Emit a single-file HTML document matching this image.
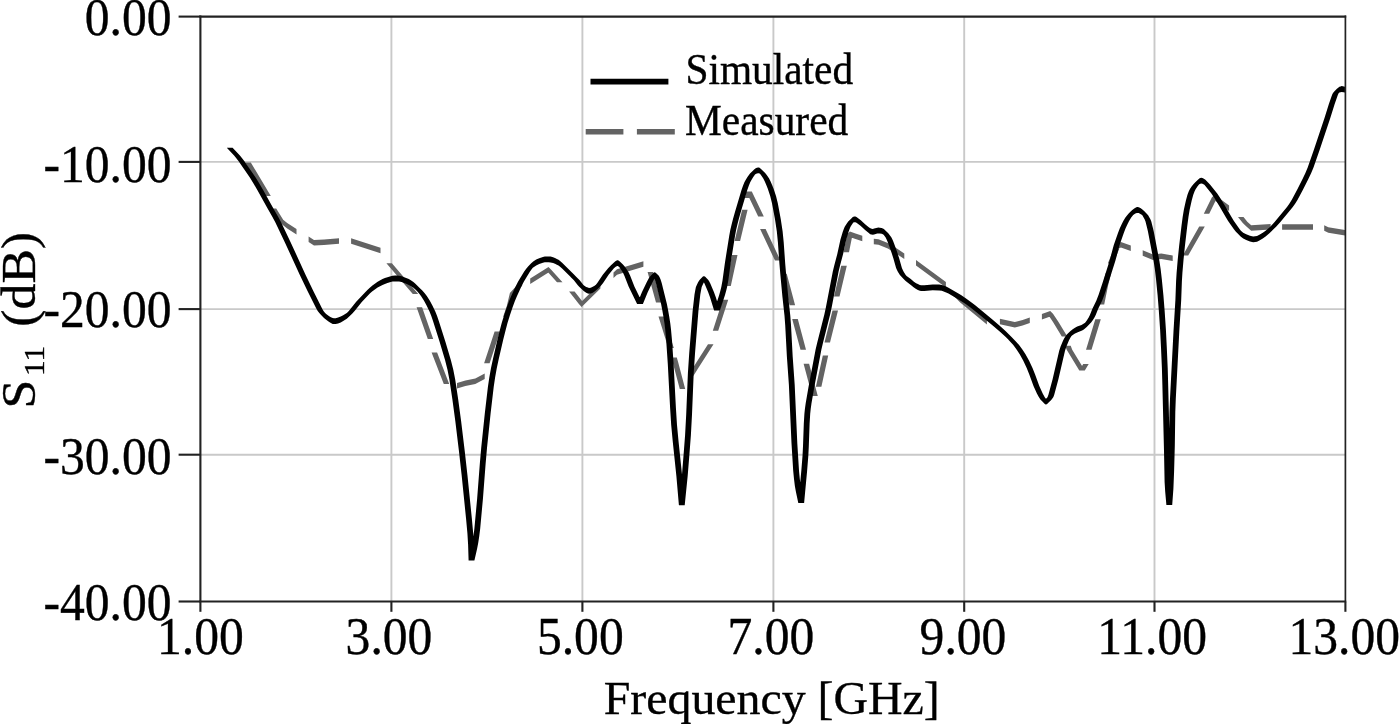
<!DOCTYPE html>
<html><head><meta charset="utf-8"><style>
html,body{margin:0;padding:0;background:#fff;overflow:hidden;}
svg{display:block;filter:grayscale(1);}
text{font-family:"Liberation Serif",serif;fill:#000;stroke:#000;stroke-width:0.35px;}
</style></head><body>
<svg width="1400" height="724" viewBox="0 0 1400 724">
<rect width="1400" height="724" fill="#fff"/>
<g stroke="#c9c9c9" stroke-width="1.9"><line x1="391.4" y1="16.6" x2="391.4" y2="601.5"/><line x1="582.4" y1="16.6" x2="582.4" y2="601.5"/><line x1="773.4" y1="16.6" x2="773.4" y2="601.5"/><line x1="964.2" y1="16.6" x2="964.2" y2="601.5"/><line x1="1154.5" y1="16.6" x2="1154.5" y2="601.5"/><line x1="200.4" y1="161.9" x2="1345.4" y2="161.9"/><line x1="200.4" y1="309.1" x2="1345.4" y2="309.1"/><line x1="200.4" y1="454.7" x2="1345.4" y2="454.7"/></g>
<path d="M250.8,162.5 270.8,196.0 265.2,196.0 245.2,162.5ZM276.2,208.4 283.8,220.8 278.2,220.8 270.8,208.4ZM281.0,218.1 287.2,223.1 296.5,229.1 296.5,234.6 287.2,228.6 281.0,223.6ZM278.2,220.8 281.0,218.1 283.8,220.8 281.0,223.6ZM308.6,236.6 314.0,240.1 324.0,239.6 339.0,238.2 339.0,243.7 324.0,245.1 314.0,245.6 308.6,242.1ZM351.1,238.3 380.5,247.8 380.5,253.3 351.1,243.8ZM391.9,263.3 418.2,294.1 412.8,294.1 386.4,263.3ZM422.1,307.3 433.2,339.0 427.8,339.0 416.6,307.3ZM437.1,352.4 449.2,383.9 443.8,383.9 431.6,352.4ZM457.0,382.9 465.4,380.6 475.3,378.4 484.7,373.4 484.7,378.9 475.3,383.9 465.4,386.1 457.0,388.4ZM484.1,363.2 494.6,331.4 500.1,331.4 489.6,363.2ZM503.1,316.7 506.8,306.0 509.9,293.0 517.0,285.3 522.5,285.3 515.4,293.0 512.2,306.0 508.6,316.7ZM530.2,278.6 548.5,266.9 548.5,272.4 530.2,284.1ZM551.2,269.7 562.5,282.3 557.0,282.3 545.8,269.7ZM545.8,269.7 548.5,266.9 551.2,269.7 548.5,272.4ZM574.6,291.5 584.4,304.1 578.9,304.1 569.1,291.5ZM581.6,301.4 600.4,282.9 600.4,288.4 581.6,306.9ZM578.9,304.1 581.6,301.4 584.4,304.1 581.6,306.9ZM613.5,272.4 617.0,269.2 643.4,261.2 643.4,266.8 617.0,274.8 613.5,277.9ZM653.1,271.9 661.5,302.4 656.0,302.4 647.6,271.9ZM664.0,316.5 673.8,348.0 668.3,348.0 658.5,316.5ZM676.8,357.6 678.1,362.0 685.2,389.0 679.8,389.0 672.6,362.0 671.3,357.6ZM679.8,389.0 679.8,389.0 685.3,389.0 685.2,389.0ZM688.0,375.8 692.5,368.6 708.0,344.3 713.5,344.3 698.0,368.6 693.5,375.8ZM712.8,330.8 722.8,299.8 728.2,299.8 718.2,330.8ZM725.2,286.1 732.0,255.0 737.5,255.0 730.8,286.1ZM734.6,240.9 742.1,209.8 747.6,209.8 740.1,240.9ZM744.8,198.0 746.2,191.5 751.8,191.5 750.3,198.0ZM751.8,191.5 763.8,216.5 758.2,216.5 746.2,191.5ZM765.6,229.1 780.5,260.6 775.0,260.6 760.1,229.1ZM786.6,273.7 786.8,274.0 795.1,305.2 789.6,305.2 781.2,274.0 781.1,273.7ZM797.8,319.0 806.0,349.7 800.5,349.7 792.2,319.0ZM809.1,363.7 817.8,396.0 812.2,396.0 803.6,363.7ZM815.9,386.7 822.8,355.5 828.2,355.5 821.4,386.7ZM824.5,342.4 832.5,310.4 838.0,310.4 830.0,342.4ZM834.0,296.6 841.2,265.8 846.8,265.8 839.5,296.6ZM843.5,252.3 847.1,234.3 852.6,234.3 849.0,252.3ZM849.9,231.6 855.5,233.4 862.3,235.7 862.3,241.2 855.5,238.9 849.9,237.1ZM847.1,234.3 849.9,231.6 852.6,234.3 849.9,237.1ZM873.8,238.8 878.5,239.3 887.8,243.1 896.5,248.3 904.3,253.4 904.3,258.9 896.5,253.8 887.8,248.6 878.5,244.8 873.8,244.2ZM916.0,259.9 945.9,282.1 945.9,287.6 916.0,265.4ZM960.4,297.1 963.0,299.7 957.5,299.7 954.9,297.1ZM960.2,296.9 986.9,319.1 986.9,324.6 960.2,302.4ZM957.5,299.7 960.2,296.9 963.0,299.7 960.2,302.4ZM999.9,318.8 1014.8,322.1 1022.6,319.9 1029.8,317.6 1029.8,323.1 1022.6,325.4 1014.8,327.6 999.9,324.2ZM1041.9,313.9 1050.2,311.1 1050.2,316.6 1041.9,319.4ZM1053.0,313.8 1058.5,322.1 1067.3,336.5 1061.8,336.5 1053.0,322.1 1047.5,313.8ZM1047.5,313.8 1050.2,311.1 1053.0,313.8 1050.2,316.6ZM1070.7,345.7 1072.2,349.7 1084.8,370.6 1079.3,370.6 1066.7,349.7 1065.2,345.7ZM1079.3,370.6 1083.2,364.0 1088.7,364.0 1084.8,370.6ZM1086.0,349.7 1095.3,319.3 1100.8,319.3 1091.5,349.7ZM1098.7,304.4 1102.8,285.0 1105.7,272.9 1111.2,272.9 1108.2,285.0 1104.2,304.4ZM1107.9,263.6 1108.0,263.0 1114.8,246.5 1120.2,246.5 1113.5,263.0 1113.4,263.6ZM1117.5,243.8 1120.9,241.9 1130.8,245.6 1130.8,251.1 1120.9,247.4 1117.5,249.2ZM1114.8,246.5 1117.5,243.8 1120.2,246.5 1117.5,249.2ZM1142.7,250.2 1153.0,254.4 1161.3,253.4 1172.7,255.4 1172.7,260.9 1161.3,258.9 1153.0,259.9 1142.7,255.8ZM1182.8,255.6 1199.2,226.4 1204.8,226.4 1188.2,255.6ZM1203.8,213.7 1211.8,197.5 1217.2,197.5 1209.2,213.7ZM1214.5,194.8 1229.1,205.4 1229.1,210.9 1214.5,200.2ZM1211.8,197.5 1214.5,194.8 1217.2,197.5 1214.5,200.2ZM1243.5,217.0 1248.3,223.1 1242.8,223.1 1238.0,217.0ZM1245.6,220.3 1251.2,225.2 1270.6,223.9 1270.6,229.4 1251.2,230.8 1245.6,225.8ZM1242.8,223.1 1245.6,220.3 1248.3,223.1 1245.6,225.8ZM1282.1,224.2 1313.0,224.2 1313.0,229.8 1282.1,229.8ZM1324.2,225.3 1328.3,227.3 1345.0,230.1 1345.0,235.6 1328.3,232.8 1324.2,230.8Z" fill="#636363"/>
<path d="M232.6,147.8 239.9,155.6 242.1,158.3 244.6,161.6 255.8,177.8 259.0,183.0 263.4,190.5 273.4,208.5 278.4,217.2 281.2,222.4 290.6,242.2 305.4,274.4 313.2,290.7 322.2,308.7 323.5,311.0 325.1,313.1 326.9,315.0 321.1,315.0 319.3,313.1 317.7,311.0 316.4,308.7 307.4,290.7 299.6,274.4 284.8,242.2 275.4,222.4 272.6,217.2 267.6,208.5 257.6,190.5 253.2,183.0 250.0,177.8 238.8,161.6 236.3,158.3 234.1,155.6 226.8,147.8ZM324.0,312.1 326.5,314.2 329.2,316.2 330.9,317.3 332.7,318.1 334.0,318.3 335.7,318.2 338.1,317.6 340.7,316.6 343.2,315.3 346.8,312.9 349.2,310.8 349.2,316.6 346.8,318.7 343.2,321.1 340.7,322.4 338.1,323.4 335.7,324.0 334.0,324.1 332.7,323.9 330.9,323.1 329.2,322.0 326.5,320.0 324.0,317.9ZM346.3,313.7 349.0,310.7 354.0,304.5 356.2,301.8 364.5,293.0 370.3,293.0 362.0,301.8 359.8,304.5 354.8,310.7 352.1,313.7ZM367.4,290.1 369.8,287.7 372.4,285.5 375.2,283.4 377.6,281.8 382.5,279.1 384.9,278.1 387.4,277.2 389.9,276.4 392.5,275.8 395.1,275.6 397.0,275.6 399.0,275.8 401.6,276.3 403.5,276.9 406.2,277.9 408.8,279.1 411.2,280.5 413.4,282.0 415.4,283.7 419.4,287.7 419.4,293.5 415.4,289.5 413.4,287.8 411.2,286.3 408.8,284.9 406.2,283.7 403.5,282.7 401.6,282.1 399.0,281.6 397.0,281.4 395.1,281.4 392.5,281.6 389.9,282.2 387.4,283.0 384.9,283.9 382.5,284.9 377.6,287.6 375.2,289.2 372.4,291.3 369.8,293.5 367.4,295.9ZM422.3,290.6 424.7,293.3 426.8,296.0 429.7,300.6 432.4,305.4 435.3,311.6 437.1,316.0 438.8,320.9 445.4,341.7 450.9,360.3 453.3,369.8 455.2,379.4 458.2,399.5 461.1,420.9 464.7,450.7 467.4,474.8 471.8,518.1 473.2,533.2 473.9,544.5 474.4,560.5 468.6,560.5 468.1,544.5 467.4,533.2 466.0,518.1 461.6,474.8 458.9,450.7 455.3,420.9 452.4,399.5 449.4,379.4 447.5,369.8 445.1,360.3 439.6,341.7 433.0,320.9 431.3,316.0 429.5,311.6 426.6,305.4 423.9,300.6 421.0,296.0 418.9,293.3 416.5,290.6ZM468.6,560.5 471.3,548.7 472.4,543.1 473.4,536.4 474.4,528.6 477.2,498.0 479.8,464.1 481.2,447.9 484.8,413.6 487.9,387.1 489.3,377.5 491.0,368.1 493.0,358.7 497.4,339.7 499.8,330.2 501.7,323.1 504.1,315.3 506.8,307.3 509.1,301.1 511.1,296.2 515.1,287.6 518.0,281.8 520.1,278.2 524.2,271.5 526.2,268.7 528.3,266.2 534.1,266.2 532.0,268.7 530.0,271.5 525.9,278.2 523.8,281.8 520.9,287.6 516.9,296.2 514.9,301.1 512.6,307.3 509.9,315.3 507.5,323.1 505.6,330.2 503.2,339.7 498.8,358.7 496.8,368.1 495.1,377.5 493.7,387.1 490.6,413.6 487.0,447.9 485.6,464.1 483.0,498.0 480.2,528.6 479.2,536.4 478.2,543.1 477.1,548.7 474.4,560.5ZM531.2,263.3 533.2,261.6 536.2,259.6 539.2,258.2 542.9,256.9 544.8,256.5 546.8,256.4 548.7,256.4 550.6,256.6 553.1,257.3 555.0,258.0 556.9,258.9 558.5,259.8 560.1,261.0 562.1,262.8 573.5,274.0 573.5,279.8 562.1,268.6 560.1,266.8 558.5,265.6 556.9,264.7 555.0,263.8 553.1,263.1 550.6,262.4 548.7,262.2 546.8,262.2 544.8,262.3 542.9,262.7 539.2,264.0 536.2,265.4 533.2,267.4 531.2,269.1ZM576.4,276.9 579.7,280.3 583.6,285.2 585.0,286.7 579.2,286.7 577.8,285.2 573.9,280.3 570.6,276.9ZM582.1,283.8 584.0,285.4 586.2,286.9 587.9,287.6 589.0,287.9 590.7,287.7 592.3,287.1 594.6,285.7 597.3,283.5 597.3,289.3 594.6,291.5 592.3,292.9 590.7,293.5 589.0,293.7 587.9,293.4 586.2,292.7 584.0,291.2 582.1,289.6ZM594.4,286.4 595.7,285.1 597.3,283.0 602.8,274.8 608.1,268.2 613.9,268.2 608.6,274.8 603.1,283.0 601.5,285.1 600.2,286.4ZM611.0,265.3 614.8,261.7 615.7,261.0 616.7,260.4 617.2,260.3 617.7,260.3 618.5,260.6 619.8,261.4 619.8,267.2 618.5,266.4 617.7,266.1 617.2,266.1 616.7,266.2 615.7,266.8 614.8,267.5 611.0,271.1ZM622.7,264.3 624.5,266.2 626.6,269.2 628.7,272.6 630.3,276.0 634.4,286.4 642.9,304.0 637.1,304.0 628.6,286.4 624.5,276.0 622.9,272.6 620.8,269.2 618.7,266.2 616.9,264.3ZM637.1,304.0 641.9,292.2 646.7,282.2 648.8,278.3 650.5,276.0 656.3,276.0 654.6,278.3 652.5,282.2 647.7,292.2 642.9,304.0ZM653.4,273.1 654.0,272.6 654.6,272.3 655.2,272.4 655.7,272.7 655.7,278.5 655.2,278.2 654.6,278.1 654.0,278.4 653.4,278.9ZM658.6,275.6 659.5,276.9 660.6,279.5 661.7,283.0 666.9,304.1 668.1,310.2 669.2,316.5 670.3,323.5 671.0,329.4 672.0,340.6 673.6,363.9 675.9,407.7 677.0,425.0 678.5,441.1 682.2,476.3 684.7,505.3 678.9,505.3 676.4,476.3 672.7,441.1 671.2,425.0 670.1,407.7 667.8,363.9 666.2,340.6 665.2,329.4 664.5,323.5 663.4,316.5 662.3,310.2 661.1,304.1 655.9,283.0 654.8,279.5 653.7,276.9 652.8,275.6ZM678.9,505.3 681.9,475.7 683.6,454.5 685.1,435.0 686.2,414.5 687.9,373.2 689.2,353.6 692.6,311.3 694.5,294.5 695.4,289.4 695.9,287.1 696.8,284.9 698.1,282.2 699.2,280.4 700.0,279.5 705.8,279.5 705.0,280.4 703.9,282.2 702.6,284.9 701.7,287.1 701.2,289.4 700.3,294.5 698.4,311.3 695.0,353.6 693.7,373.2 692.0,414.5 690.9,435.0 689.4,454.5 687.7,475.7 684.7,505.3ZM702.9,276.6 703.6,276.2 704.3,276.2 705.2,276.8 705.2,282.6 704.3,282.0 703.6,282.0 702.9,282.4ZM708.1,279.7 709.0,281.0 710.3,283.4 713.9,291.9 715.9,297.6 719.9,310.4 714.1,310.4 710.1,297.6 708.1,291.9 704.5,283.4 703.2,281.0 702.3,279.7ZM714.1,310.4 719.2,295.0 720.3,291.0 721.3,287.0 722.5,280.4 724.9,262.9 729.2,235.9 730.3,229.9 731.6,224.4 733.0,218.9 734.9,212.2 741.5,190.1 743.0,185.7 744.4,182.3 745.8,179.8 747.3,177.3 748.9,175.0 750.0,173.6 755.8,173.6 754.7,175.0 753.1,177.3 751.6,179.8 750.2,182.3 748.8,185.7 747.3,190.1 740.7,212.2 738.8,218.9 737.4,224.4 736.1,229.9 735.0,235.9 730.7,262.9 728.3,280.4 727.1,287.0 726.1,291.0 725.0,295.0 719.9,310.4ZM752.9,170.7 754.1,169.5 755.7,168.3 756.9,167.7 758.1,167.4 758.7,167.5 759.6,167.8 761.0,168.9 761.0,174.7 759.6,173.6 758.7,173.3 758.1,173.2 756.9,173.5 755.7,174.1 754.1,175.3 752.9,176.5ZM763.9,171.8 765.8,173.8 767.6,176.3 769.1,178.6 770.6,181.5 772.0,184.7 773.6,188.7 776.0,196.1 777.8,203.3 780.7,218.7 782.6,231.2 783.7,242.3 785.2,263.5 786.1,273.9 788.2,296.6 790.3,315.8 791.0,324.9 792.7,356.7 794.7,384.9 797.3,443.3 799.0,470.8 799.8,479.1 800.7,486.2 801.7,491.8 804.1,503.0 798.3,503.0 795.9,491.8 794.9,486.2 794.0,479.1 793.2,470.8 791.5,443.3 788.9,384.9 786.9,356.7 785.2,324.9 784.5,315.8 782.4,296.6 780.3,273.9 779.4,263.5 777.9,242.3 776.8,231.2 774.9,218.7 772.0,203.3 770.2,196.1 767.8,188.7 766.2,184.7 764.8,181.5 763.3,178.6 761.8,176.3 760.0,173.8 758.1,171.8ZM798.3,503.0 801.3,471.0 802.5,455.9 803.0,446.3 803.8,423.8 804.4,413.8 804.9,408.9 805.7,403.2 808.6,386.5 815.6,349.4 817.2,342.7 824.4,314.2 825.8,307.7 832.8,271.5 834.2,265.7 837.3,254.1 840.4,239.8 842.7,232.0 843.6,229.4 844.6,227.0 845.5,225.4 847.0,223.2 848.2,221.6 854.0,221.6 852.8,223.2 851.3,225.4 850.4,227.0 849.4,229.4 848.5,232.0 846.2,239.8 843.1,254.1 840.0,265.7 838.6,271.5 831.6,307.7 830.2,314.2 823.0,342.7 821.4,349.4 814.4,386.5 811.5,403.2 810.7,408.9 810.2,413.8 809.6,423.8 808.8,446.3 808.3,455.9 807.1,471.0 804.1,503.0ZM851.1,218.7 852.5,217.3 853.4,216.7 854.3,216.4 855.4,216.5 856.5,217.0 860.8,220.3 865.1,224.3 868.8,227.3 869.9,228.1 871.0,228.6 871.6,228.8 872.8,228.9 874.1,228.6 877.3,227.7 878.5,227.6 879.8,227.7 881.7,228.0 882.8,228.5 883.9,229.1 885.4,230.4 885.4,236.2 883.9,234.9 882.8,234.3 881.7,233.8 879.8,233.5 878.5,233.4 877.3,233.5 874.1,234.4 872.8,234.7 871.6,234.6 871.0,234.4 869.9,233.9 868.8,233.1 865.1,230.1 860.8,226.1 856.5,222.8 855.4,222.3 854.3,222.2 853.4,222.5 852.5,223.1 851.1,224.5ZM888.3,233.3 889.6,234.9 891.3,237.3 892.2,239.0 893.3,241.4 895.9,248.5 897.7,253.8 899.2,258.5 901.9,267.9 902.9,270.3 903.8,272.1 905.7,275.0 908.0,277.5 902.2,277.5 899.9,275.0 898.0,272.1 897.1,270.3 896.1,267.9 893.4,258.5 891.9,253.8 890.1,248.5 887.5,241.4 886.4,239.0 885.5,237.3 883.8,234.9 882.5,233.3ZM905.1,274.6 906.6,275.9 910.8,279.1 913.9,281.8 916.1,283.2 917.9,284.1 919.8,284.9 921.2,285.2 922.4,285.3 924.3,285.3 932.7,284.5 939.2,284.6 941.8,285.0 943.7,285.6 946.1,286.6 948.5,287.8 961.0,295.1 965.7,298.2 969.5,300.9 974.9,305.1 992.4,319.4 999.7,325.7 1005.5,331.0 1011.3,336.8 1011.3,342.6 1005.5,336.8 999.7,331.5 992.4,325.2 974.9,310.9 969.5,306.7 965.7,304.0 961.0,300.9 948.5,293.6 946.1,292.4 943.7,291.4 941.8,290.8 939.2,290.4 932.7,290.3 924.3,291.1 922.4,291.1 921.2,291.0 919.8,290.7 917.9,289.9 916.1,289.0 913.9,287.6 910.8,284.9 906.6,281.7 905.1,280.4ZM1014.2,339.7 1018.9,344.8 1022.2,349.2 1025.5,354.3 1029.1,360.8 1032.5,368.1 1035.1,374.4 1039.3,385.9 1042.7,393.6 1044.6,397.1 1046.4,399.8 1047.7,401.1 1041.9,401.1 1040.6,399.8 1038.8,397.1 1036.9,393.6 1033.5,385.9 1029.3,374.4 1026.7,368.1 1023.3,360.8 1019.7,354.3 1016.4,349.2 1013.1,344.8 1008.4,339.7ZM1044.8,398.2 1045.7,398.6 1046.1,398.6 1047.1,398.1 1048.1,397.3 1048.1,403.1 1047.1,403.9 1046.1,404.4 1045.7,404.4 1044.8,404.0ZM1045.2,400.2 1046.2,399.1 1047.6,397.0 1048.5,394.6 1052.6,379.2 1059.2,350.8 1060.6,346.4 1063.1,340.5 1064.4,338.0 1065.5,336.3 1066.6,334.8 1067.6,333.8 1073.4,333.8 1072.4,334.8 1071.3,336.3 1070.2,338.0 1068.9,340.5 1066.4,346.4 1065.0,350.8 1058.4,379.2 1054.3,394.6 1053.4,397.0 1052.0,399.1 1051.0,400.2ZM1070.5,330.9 1072.7,329.2 1075.0,327.8 1077.2,326.6 1081.5,325.0 1083.1,324.1 1084.7,322.9 1086.7,321.2 1086.7,327.0 1084.7,328.7 1083.1,329.9 1081.5,330.8 1077.2,332.4 1075.0,333.6 1072.7,335.0 1070.5,336.7ZM1083.8,324.1 1085.5,322.2 1087.1,320.1 1088.8,317.2 1089.9,314.9 1092.4,308.8 1096.3,300.7 1098.7,294.4 1102.5,282.9 1109.5,261.0 1110.6,257.0 1112.7,249.0 1113.8,245.0 1117.9,233.3 1119.8,228.2 1121.8,223.9 1123.3,221.0 1125.4,217.6 1127.4,214.9 1129.1,213.1 1134.9,213.1 1133.2,214.9 1131.2,217.6 1129.1,221.0 1127.6,223.9 1125.6,228.2 1123.7,233.3 1119.6,245.0 1118.5,249.0 1116.4,257.0 1115.3,261.0 1108.3,282.9 1104.5,294.4 1102.1,300.7 1098.2,308.8 1095.7,314.9 1094.6,317.2 1092.9,320.1 1091.3,322.2 1089.6,324.1ZM1132.0,210.2 1134.2,208.5 1135.9,207.5 1137.0,207.1 1137.6,207.1 1138.7,207.3 1140.4,208.1 1142.1,209.3 1144.1,211.1 1144.1,216.9 1142.1,215.1 1140.4,213.9 1138.7,213.1 1137.6,212.9 1137.0,212.9 1135.9,213.3 1134.2,214.3 1132.0,216.0ZM1147.0,214.0 1148.3,215.6 1149.4,217.4 1150.4,219.2 1151.3,221.6 1152.8,227.4 1153.7,231.2 1159.4,261.0 1160.6,268.8 1161.8,278.9 1163.4,295.3 1164.6,310.3 1165.9,329.4 1166.8,347.4 1167.7,368.1 1168.2,385.7 1169.8,450.7 1170.4,482.1 1171.0,491.8 1172.2,505.0 1166.4,505.0 1165.2,491.8 1164.6,482.1 1164.0,450.7 1162.4,385.7 1161.9,368.1 1161.0,347.4 1160.1,329.4 1158.8,310.3 1157.6,295.3 1156.0,278.9 1154.8,268.8 1153.6,261.0 1147.9,231.2 1147.0,227.4 1145.5,221.6 1144.6,219.2 1143.6,217.4 1142.5,215.6 1141.2,214.0ZM1166.4,505.0 1167.6,488.8 1168.3,471.2 1169.0,446.0 1169.5,411.8 1170.0,398.6 1173.5,331.2 1175.4,300.0 1176.1,280.9 1176.6,272.9 1177.7,259.9 1179.1,246.2 1181.5,225.8 1182.7,216.7 1183.9,209.5 1185.9,200.6 1187.4,195.1 1188.7,191.4 1189.8,189.2 1191.6,186.5 1193.4,184.2 1195.3,182.3 1201.1,182.3 1199.2,184.2 1197.4,186.5 1195.6,189.2 1194.5,191.4 1193.2,195.1 1191.7,200.6 1189.7,209.5 1188.5,216.7 1187.3,225.8 1184.9,246.2 1183.5,259.9 1182.4,272.9 1181.9,280.9 1181.2,300.0 1179.3,331.2 1175.8,398.6 1175.3,411.8 1174.8,446.0 1174.1,471.2 1173.4,488.8 1172.2,505.0ZM1198.2,179.4 1199.6,178.3 1201.1,177.8 1202.5,177.9 1203.9,178.7 1205.4,179.8 1205.4,185.6 1203.9,184.5 1202.5,183.7 1201.1,183.6 1199.6,184.1 1198.2,185.2ZM1208.3,182.7 1210.2,184.8 1215.2,190.9 1217.2,193.6 1219.9,197.6 1225.1,206.0 1231.5,216.9 1233.9,220.9 1239.7,229.2 1241.7,231.7 1243.5,233.5 1237.7,233.5 1235.9,231.7 1233.9,229.2 1228.1,220.9 1225.7,216.9 1219.3,206.0 1214.1,197.6 1211.4,193.6 1209.4,190.9 1204.4,184.8 1202.5,182.7ZM1240.6,230.6 1243.2,232.7 1246.2,234.3 1250.0,235.7 1252.0,236.2 1253.3,236.4 1255.1,236.3 1257.0,235.9 1259.4,234.8 1262.8,232.8 1265.6,230.8 1269.7,227.2 1273.2,223.8 1273.2,229.6 1269.7,233.0 1265.6,236.6 1262.8,238.6 1259.4,240.6 1257.0,241.7 1255.1,242.1 1253.3,242.2 1252.0,242.0 1250.0,241.5 1246.2,240.1 1243.2,238.5 1240.6,236.4ZM1270.3,226.7 1274.6,222.1 1287.0,207.0 1289.3,203.8 1291.8,199.7 1297.0,190.1 1302.3,179.6 1305.3,173.2 1307.7,167.5 1313.8,150.0 1324.5,118.0 1328.8,104.2 1332.1,94.7 1333.0,93.1 1334.0,91.7 1339.8,91.7 1338.8,93.1 1337.9,94.7 1334.6,104.2 1330.3,118.0 1319.6,150.0 1313.5,167.5 1311.1,173.2 1308.1,179.6 1302.8,190.1 1297.6,199.7 1295.1,203.8 1292.8,207.0 1280.4,222.1 1276.1,226.7ZM1336.9,88.8 1337.9,87.9 1339.4,86.8 1340.5,86.4 1341.7,86.1 1345.0,86.7 1345.0,92.5 1341.7,91.9 1340.5,92.2 1339.4,92.6 1337.9,93.7 1336.9,94.6ZM321.1,315.0 324.0,312.1 326.9,315.0 324.0,317.9ZM346.3,313.7 349.2,310.8 352.1,313.7 349.2,316.6ZM364.5,293.0 367.4,290.1 370.3,293.0 367.4,295.9ZM416.5,290.6 419.4,287.7 422.3,290.6 419.4,293.5ZM528.3,266.2 531.2,263.3 534.1,266.2 531.2,269.1ZM570.6,276.9 573.5,274.0 576.4,276.9 573.5,279.8ZM579.2,286.7 582.1,283.8 585.0,286.7 582.1,289.6ZM594.4,286.4 597.3,283.5 600.2,286.4 597.3,289.3ZM608.1,268.2 611.0,265.3 613.9,268.2 611.0,271.1ZM616.9,264.3 619.8,261.4 622.7,264.3 619.8,267.2ZM650.5,276.0 653.4,273.1 656.3,276.0 653.4,278.9ZM652.8,275.6 655.7,272.7 658.6,275.6 655.7,278.5ZM700.0,279.5 702.9,276.6 705.8,279.5 702.9,282.4ZM702.3,279.7 705.2,276.8 708.1,279.7 705.2,282.6ZM750.0,173.6 752.9,170.7 755.8,173.6 752.9,176.5ZM758.1,171.8 761.0,168.9 763.9,171.8 761.0,174.7ZM848.2,221.6 851.1,218.7 854.0,221.6 851.1,224.5ZM882.5,233.3 885.4,230.4 888.3,233.3 885.4,236.2ZM902.2,277.5 905.1,274.6 908.0,277.5 905.1,280.4ZM1008.4,339.7 1011.3,336.8 1014.2,339.7 1011.3,342.6ZM1041.9,401.1 1044.8,398.2 1047.7,401.1 1044.8,404.0ZM1045.2,400.2 1048.1,397.3 1051.0,400.2 1048.1,403.1ZM1067.6,333.8 1070.5,330.9 1073.4,333.8 1070.5,336.7ZM1083.8,324.1 1086.7,321.2 1089.6,324.1 1086.7,327.0ZM1129.1,213.1 1132.0,210.2 1134.9,213.1 1132.0,216.0ZM1141.2,214.0 1144.1,211.1 1147.0,214.0 1144.1,216.9ZM1195.3,182.3 1198.2,179.4 1201.1,182.3 1198.2,185.2ZM1202.5,182.7 1205.4,179.8 1208.3,182.7 1205.4,185.6ZM1237.7,233.5 1240.6,230.6 1243.5,233.5 1240.6,236.4ZM1270.3,226.7 1273.2,223.8 1276.1,226.7 1273.2,229.6ZM1334.0,91.7 1336.9,88.8 1339.8,91.7 1336.9,94.6Z" fill="#000"/>
<g stroke="#222" stroke-width="2.1"><line x1="178.6" y1="16.6" x2="200.4" y2="16.6"/><line x1="178.6" y1="161.9" x2="200.4" y2="161.9"/><line x1="178.6" y1="309.1" x2="200.4" y2="309.1"/><line x1="178.6" y1="454.7" x2="200.4" y2="454.7"/><line x1="178.6" y1="601.5" x2="200.4" y2="601.5"/><line x1="200.4" y1="601.5" x2="200.4" y2="611.8"/><line x1="391.4" y1="601.5" x2="391.4" y2="611.8"/><line x1="582.4" y1="601.5" x2="582.4" y2="611.8"/><line x1="773.4" y1="601.5" x2="773.4" y2="611.8"/><line x1="964.2" y1="601.5" x2="964.2" y2="611.8"/><line x1="1154.5" y1="601.5" x2="1154.5" y2="611.8"/><line x1="1345.4" y1="601.5" x2="1345.4" y2="611.8"/><line x1="199.4" y1="16.6" x2="1346.2" y2="16.6"/><line x1="199.4" y1="601.5" x2="1346.2" y2="601.5"/><line x1="200.4" y1="15.600000000000001" x2="200.4" y2="601.5"/><line x1="1345.4" y1="15.600000000000001" x2="1345.4" y2="601.5" stroke-width="1.7"/></g>
<line x1="590.5" y1="81.65" x2="668.4" y2="81.65" stroke="#000" stroke-width="5.6"/>
<line x1="585.7" y1="131.8" x2="623.4" y2="131.8" stroke="#636363" stroke-width="5.6"/>
<line x1="636.9" y1="131.8" x2="674.8" y2="131.8" stroke="#636363" stroke-width="5.6"/>
<text x="171.60" y="35.00" font-size="49.6" text-anchor="end" transform="translate(0,35.00) scale(1,1.068) translate(0,-35.00)">0.00</text>
<text x="171.60" y="182.00" font-size="49.6" text-anchor="end" transform="translate(0,182.00) scale(1,1.068) translate(0,-182.00)">-10.00</text>
<text x="171.60" y="327.50" font-size="49.6" text-anchor="end" transform="translate(0,327.50) scale(1,1.068) translate(0,-327.50)">-20.00</text>
<text x="171.60" y="474.50" font-size="49.6" text-anchor="end" transform="translate(0,474.50) scale(1,1.068) translate(0,-474.50)">-30.00</text>
<text x="171.60" y="619.70" font-size="49.6" text-anchor="end" transform="translate(0,619.70) scale(1,1.068) translate(0,-619.70)">-40.00</text>
<text x="157.06" y="653.70" font-size="49.6" transform="translate(0,653.70) scale(1,1.068) translate(0,-653.70)">1.00</text>
<text x="345.60" y="653.70" font-size="49.6" transform="translate(0,653.70) scale(1,1.068) translate(0,-653.70)">3.00</text>
<text x="536.90" y="653.70" font-size="49.6" transform="translate(0,653.70) scale(1,1.068) translate(0,-653.70)">5.00</text>
<text x="727.50" y="653.70" font-size="49.6" transform="translate(0,653.70) scale(1,1.068) translate(0,-653.70)">7.00</text>
<text x="919.60" y="653.70" font-size="49.6" transform="translate(0,653.70) scale(1,1.068) translate(0,-653.70)">9.00</text>
<text x="1097.30" y="653.70" font-size="49.6" transform="translate(0,653.70) scale(1,1.068) translate(0,-653.70)">11.00</text>
<text x="1288.40" y="653.70" font-size="49.6" transform="translate(0,653.70) scale(1,1.068) translate(0,-653.70)">13.00</text>
<text x="685.50" y="84.30" font-size="41.35" transform="translate(0,84.30) scale(1,1.058) translate(0,-84.30)">Simulated</text>
<text x="685.00" y="134.80" font-size="41.4" transform="translate(0,134.80) scale(1,1.06) translate(0,-134.80)">Measured</text>
<text x="603.70" y="713.85" font-size="47.86" transform="translate(0,713.85) scale(1,0.975) translate(0,-713.85)">Frequency [GHz]</text>
<g transform="translate(34.6,408.5) rotate(-90) scale(1.077,1)"><text x="0" y="0" font-size="48">S</text><text x="30.2" y="9.1" font-size="29">11</text><text x="76" y="0" font-size="48">(dB)</text></g>
</svg>
</body></html>
